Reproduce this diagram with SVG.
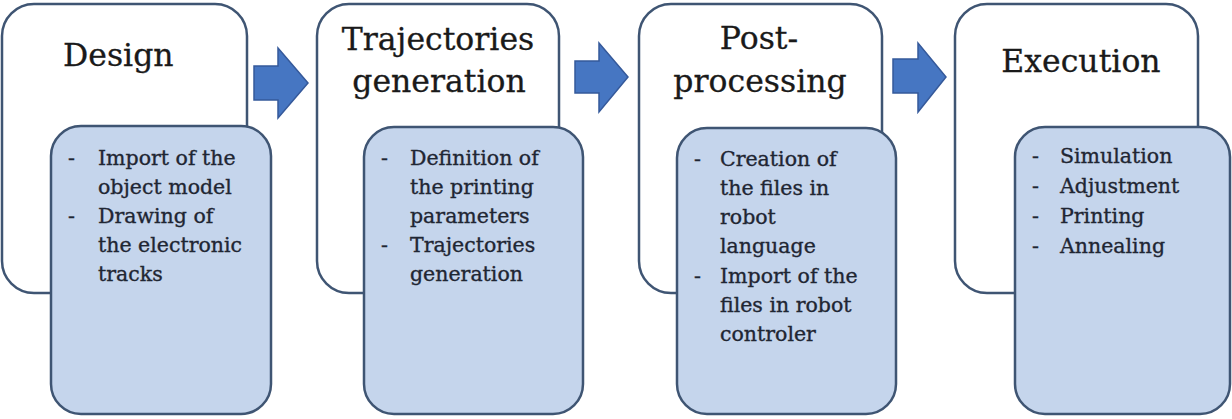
<svg xmlns="http://www.w3.org/2000/svg" width="1232" height="419" viewBox="0 0 1232 419">
  <style>
    .card { fill: #ffffff; stroke: #3f5573; stroke-width: 2.5; }
    .detail { fill: #c5d5ec; stroke: #3f5573; stroke-width: 2.5; }
    .title { font-family: "DejaVu Serif", "Liberation Serif", serif; font-size: 31.5px; fill: #1a1a1a; stroke: #1a1a1a; stroke-width: 0.3; }
    .item { font-family: "DejaVu Serif", "Liberation Serif", serif; font-size: 20.5px; fill: #1f2633; stroke: #1f2633; stroke-width: 0.35; }
    .flow { fill: #4676c2; stroke: #35599a; stroke-width: 1.5; stroke-linejoin: miter; }
  </style>

  <!-- Flow arrows between stages -->
  <g id="connectors">
    <path class="flow" d="M254,66 H278 V48 L308,83 L278,118 V100 H254 Z"/>
    <path class="flow" d="M575,61 H599 V43 L628,77 L599,112 V93 H575 Z"/>
    <path class="flow" d="M893,59 H918 V43 L946,77 L918,112 V93 H893 Z"/>
  </g>

  <!-- Stage 1 -->
  <g id="design">
    <rect class="card" x="2" y="4" width="245" height="289" rx="32" ry="32"/>
    <text class="title" x="63" y="66">Design</text>
    <rect class="detail" x="51" y="126" width="220" height="288" rx="30" ry="30"/>
    <text class="item" x="68" y="165">-</text>
    <text class="item" x="98" y="165">Import of the</text>
    <text class="item" x="98" y="194">object model</text>
    <text class="item" x="68" y="223">-</text>
    <text class="item" x="98" y="223">Drawing of</text>
    <text class="item" x="98" y="252">the electronic</text>
    <text class="item" x="98" y="281">tracks</text>
  </g>

  <!-- Stage 2 -->
  <g id="trajectories">
    <rect class="card" x="317" y="4" width="242" height="289" rx="32" ry="32"/>
    <text class="title" x="438" y="50" text-anchor="middle">Trajectories</text>
    <text class="title" x="439" y="92" text-anchor="middle">generation</text>
    <rect class="detail" x="364" y="127" width="219" height="287" rx="30" ry="30"/>
    <text class="item" x="381" y="165">-</text>
    <text class="item" x="410" y="165">Definition of</text>
    <text class="item" x="410" y="194">the printing</text>
    <text class="item" x="410" y="223">parameters</text>
    <text class="item" x="381" y="252">-</text>
    <text class="item" x="410" y="252">Trajectories</text>
    <text class="item" x="410" y="281">generation</text>
  </g>

  <!-- Stage 3 -->
  <g id="post-processing">
    <rect class="card" x="639" y="4" width="243" height="289" rx="32" ry="32"/>
    <text class="title" x="759" y="49" text-anchor="middle">Post-</text>
    <text class="title" x="760" y="92" text-anchor="middle">processing</text>
    <rect class="detail" x="677" y="128" width="219" height="286" rx="30" ry="30"/>
    <text class="item" x="694" y="166">-</text>
    <text class="item" x="720" y="166">Creation of</text>
    <text class="item" x="720" y="195">the files in</text>
    <text class="item" x="720" y="224">robot</text>
    <text class="item" x="720" y="253">language</text>
    <text class="item" x="694" y="283">-</text>
    <text class="item" x="720" y="283">Import of the</text>
    <text class="item" x="720" y="312">files in robot</text>
    <text class="item" x="720" y="341">controler</text>
  </g>

  <!-- Stage 4 -->
  <g id="execution">
    <rect class="card" x="955" y="4" width="243" height="289" rx="32" ry="32"/>
    <text class="title" x="1081" y="72" text-anchor="middle">Execution</text>
    <rect class="detail" x="1015" y="127" width="215" height="287" rx="30" ry="30"/>
    <text class="item" x="1032" y="163">-</text>
    <text class="item" x="1060" y="163">Simulation</text>
    <text class="item" x="1032" y="193">-</text>
    <text class="item" x="1060" y="193">Adjustment</text>
    <text class="item" x="1032" y="223">-</text>
    <text class="item" x="1060" y="223">Printing</text>
    <text class="item" x="1032" y="253">-</text>
    <text class="item" x="1060" y="253">Annealing</text>
  </g>
</svg>
